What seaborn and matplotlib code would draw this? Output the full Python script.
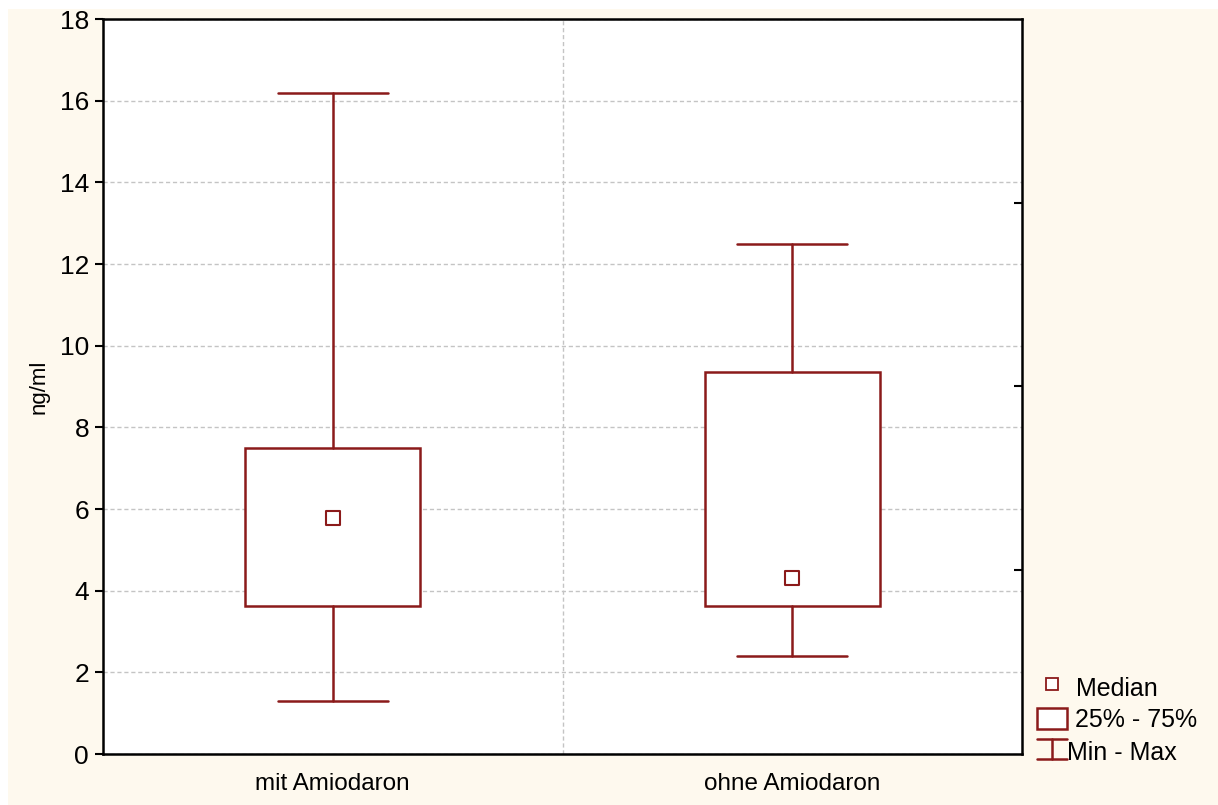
import matplotlib
matplotlib.use("Agg")
import matplotlib.pyplot as plt
import seaborn as sns
import pandas as pd
from matplotlib.patches import Rectangle
from matplotlib.lines import Line2D

# data (ng/ml)
groups = ["mit Amiodaron", "ohne Amiodaron"]
mins = [1.3, 2.4]
q1s = [3.62, 3.62]
medians = [5.77, 4.3]
q3s = [7.49, 9.36]
maxs = [16.2, 12.5]

red = "#8b1a1a"
cream = "#fef9ee"

sns.set_theme(style="white")
plt.rcParams["font.family"] = ["Liberation Sans", "DejaVu Sans"]
plt.rcParams["text.color"] = "black"
plt.rcParams["axes.labelcolor"] = "black"
plt.rcParams["xtick.color"] = "black"
plt.rcParams["ytick.color"] = "black"

fig = plt.figure(figsize=(12.18, 8.05), dpi=100, facecolor="white")
# cream panel behind everything (white strip on top / left like the original)
fig.patches.append(Rectangle((8 / 1218, 0), 1, 1 - 9 / 805, transform=fig.transFigure,
                             facecolor=cream, edgecolor="none", zorder=-10))
ax = fig.add_axes([103 / 1218, 1 - 754 / 805, (1022 - 103) / 1218, (754 - 19) / 805])
ax.set_facecolor("white")

# box stats for bxp
stats = []
for i, g in enumerate(groups):
    stats.append(dict(label=g, whislo=mins[i], q1=q1s[i], med=medians[i],
                      q3=q3s[i], whishi=maxs[i]))

ax.bxp(stats, positions=[0, 1], widths=0.38, showfliers=False,
       patch_artist=True,
       boxprops=dict(facecolor="white", edgecolor=red, linewidth=1.8),
       whiskerprops=dict(color=red, linewidth=1.8),
       capprops=dict(color=red, linewidth=1.8),
       medianprops=dict(linewidth=0),
       capwidths=0.24, zorder=3)

# median markers
df = pd.DataFrame({"pos": [0, 1], "median": medians})
sns.scatterplot(data=df, x="pos", y="median", marker="s", s=110,
                facecolor="white", edgecolor=red, linewidth=1.5, ax=ax, zorder=4)

ax.set_xlim(-0.5, 1.5)
ax.set_ylim(0, 18)
ax.set_yticks(range(0, 19, 2))
ax.set_xticks([0.5])
ax.set_xticklabels([])
ax.set_xticks([0, 1], minor=True)
ax.set_xticklabels(groups, minor=True, fontsize=17.5)
ax.tick_params(axis="x", which="minor", length=0, pad=14)
ax.tick_params(axis="x", which="major", direction="in", length=6, width=1.5, color="black")
ax.tick_params(axis="y", direction="out", length=6, width=1.5, color="black",
               labelsize=19, pad=4, left=True)
ax.set_xlabel("")
ax.set_ylabel("ng/ml", fontsize=16, labelpad=7)

ax.grid(True, which="major", axis="both", color="#c4c4c4", linestyle=(0, (3, 2)), linewidth=1)
ax.set_axisbelow(True)
for s in ax.spines.values():
    s.set_visible(True)
    s.set_color("black")
    s.set_linewidth(1.8)

# right axis ticks
ax2 = ax.twinx()
ax2.set_ylim(0, 18)
ax2.set_yticks([4.5, 9, 13.5])
ax2.set_yticklabels([])
ax2.tick_params(axis="y", direction="in", length=6, width=1.5, color="black", right=True)
ax2.grid(False)
for s in ax2.spines.values():
    s.set_visible(False)

# legend drawn by hand in figure pixels
def fx(x):
    return x / 1218

def fy(y):
    return 1 - y / 805

fig.add_artist(Line2D([fx(1052)], [fy(684)], marker="s", markersize=8,
                      markerfacecolor="white", markeredgecolor=red, markeredgewidth=1.3,
                      linestyle="none"))
fig.text(fx(1076), fy(689), "Median", fontsize=18, va="center", ha="left")
fig.patches.append(Rectangle((fx(1037), fy(729)), fx(30), 21 / 805, transform=fig.transFigure,
                             facecolor="white", edgecolor=red, linewidth=1.8))
fig.text(fx(1075), fy(720), "25% - 75%", fontsize=18, va="center", ha="left")
fig.add_artist(Line2D([fx(1037), fx(1067)], [fy(739), fy(739)], color=red, linewidth=1.8))
fig.add_artist(Line2D([fx(1037), fx(1067)], [fy(759), fy(759)], color=red, linewidth=1.8))
fig.add_artist(Line2D([fx(1052), fx(1052)], [fy(739), fy(759)], color=red, linewidth=1.8))
fig.text(fx(1067), fy(753), "Min - Max", fontsize=18, va="center", ha="left")

fig.savefig("out.png", dpi=100, facecolor=fig.get_facecolor())
